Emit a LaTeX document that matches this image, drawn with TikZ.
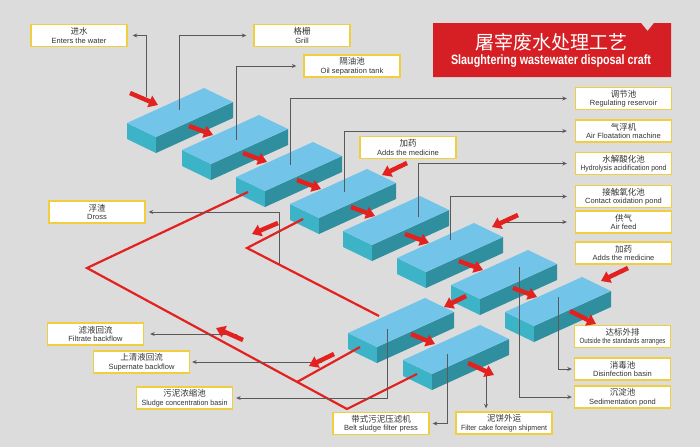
\documentclass[tikz,border=0pt]{standalone}
\usepackage{fontspec}
\setmainfont{Liberation Sans}
\newfontfamily\cjk{Noto Sans CJK SC}
\usetikzlibrary{arrows.meta,calc}
\definecolor{bgc}{HTML}{DCDCDC}
\definecolor{topc}{HTML}{72C5E9}
\definecolor{endc}{HTML}{3CB3C6}
\definecolor{sidec}{HTML}{2F8F9F}
\definecolor{redc}{HTML}{E3211F}
\definecolor{bannerc}{HTML}{D61F24}
\definecolor{leadc}{HTML}{595959}
\definecolor{goldc}{HTML}{EFCF3F}
\definecolor{txtc}{HTML}{333333}
\newsavebox\fitbox
\newcommand\fitx[2]{\sbox\fitbox{#2}\ifdim\wd\fitbox>#1\relax\resizebox{#1}{\height}{\usebox\fitbox}\else\usebox\fitbox\fi}
\newcommand\lab[2]{{\cjk\fontsize{8.5}{9}\selectfont #1}\\{\fontsize{7.5}{8.5}\selectfont\fitx{86pt}{#2}}}
\tikzset{
  slab/.pic={
    \fill[endc] (0,0) -- (29,14) -- (29,30) -- (0,16) -- cycle;
    \fill[sidec] (29,14) -- (106,-21) -- (106,-5) -- (29,30) -- cycle;
    \fill[topc] (0,0) -- (77,-35) -- (106,-21) -- (29,14) -- cycle;
  },
  redarr/.style={draw=redc, line width=4.5pt, -{Triangle[width=12pt,length=9pt]}},
  redln/.style={draw=redc, line width=2.2pt, line join=miter},
  lead/.style={draw=leadc, line width=0.8pt, -{Stealth[length=4.5pt,width=4pt]}},
  lbl/.style={draw=goldc, line width=1.4pt, fill=white, minimum width=96pt,
    minimum height=22pt, inner sep=0pt, align=center, text=txtc,
    font=\fontsize{7.5}{8.5}\selectfont}
}
\begin{document}
\begin{tikzpicture}[x=1pt,y=-1pt]
\useasboundingbox (0,0) rectangle (700,447);
\fill[bgc] (0,0) rectangle (700,447);

% block anchors
\coordinate (b1) at (127,123);
\coordinate (b2) at (182,150);
\coordinate (b3) at (236,177);
\coordinate (b4) at (290,204);
\coordinate (b5) at (343,231);
\coordinate (b6) at (397,258);
\coordinate (b7) at (451,285);
\coordinate (b8) at (505,312);
\coordinate (b9) at (348,333);
\coordinate (b10) at (403,360);
\foreach \b in {b1,b2,b3,b4,b5,b6,b7,b8,b9,b10} {\pic at (\b) {slab};}

% title banner
\fill[bannerc] (433,23) -- (641,23) -- (647.5,31) -- (654,23) -- (671,23) -- (671,77) -- (433,77) -- cycle;
\node[text=white, inner sep=0pt] (ttlcn) at (551,42) {\cjk\fontsize{19}{19}\selectfont 屠宰废水处理工艺};
\node[text=white, inner sep=0pt] (ttlen) at (551,61.5) {\fontsize{13.5}{14}\selectfont\bfseries\resizebox{200pt}{\height}{Slaughtering wastewater disposal craft}};

% labels
\node[lbl] (inwater) at (79,35.5) {\lab{进水}{Enters the water}};
\node[lbl] (grill) at (302,35.5) {\lab{格栅}{Grill}};
\node[lbl] (oil) at (352,66) {\lab{隔油池}{Oil separation tank}};
\node[lbl] (reg) at (623.5,98.5) {\lab{调节池}{Regulating reservoir}};
\node[lbl] (afl) at (623.5,131) {\lab{气浮机}{Air Floatation machine}};
\node[lbl] (medone) at (408,147.5) {\lab{加药}{Adds the medicine}};
\node[lbl] (hyd) at (623.5,163.5) {\lab{水解酸化池}{Hydrolysis acidification pond}};
\node[lbl] (con) at (623.5,196.5) {\lab{接触氧化池}{Contact oxidation pond}};
\node[lbl] (feed) at (623.5,222) {\lab{供气}{Air feed}};
\node[lbl] (medtwo) at (623.5,253) {\lab{加药}{Adds the medicine}};
\node[lbl] (dross) at (97,212) {\lab{浮渣}{Dross}};
\node[lbl] (filt) at (95.5,334) {\lab{滤液回流}{Filtrate backflow}};
\node[lbl] (sup) at (141.5,362) {\lab{上清液回流}{Supernate backflow}};
\node[lbl] (slc) at (184.5,398) {\lab{污泥浓缩池}{Sludge concentration basin}};
\node[lbl] (belt) at (381,423.5) {\lab{带式污泥压滤机}{Belt sludge filter press}};
\node[lbl] (cake) at (504,423) {\lab{泥饼外运}{Filter cake foreign shipment}};
\node[lbl] (outs) at (622.5,336.5) {\lab{达标外排}{Outside the standards arranges}};
\node[lbl] (dis) at (622.5,369) {\lab{消毒池}{Disinfection basin}};
\node[lbl] (sed) at (622.5,397) {\lab{沉淀池}{Sedimentation pond}};

% red sludge lines
\draw[redln] (417,374) -- (347,409) -- (87,268) -- (248,192);
\draw[redln] (360,347) -- (297,382);
\draw[redln] (303,219) -- (247,248) -- (379,316);

% grey leader lines
\coordinate (cakein) at (486,373);
\draw[lead, shorten >=5pt] (146,97) |- (inwater.east);
\draw[lead, shorten >=7pt] (179,110) |- (grill.west);
\draw[lead, shorten >=7pt] (236,140) |- (oil.west);
\draw[lead, shorten >=8pt] (290,165) |- (reg.west);
\draw[lead, shorten >=8pt] (344,192) |- (afl.west);
\draw[lead, shorten >=8pt] (418,217) |- (hyd.west);
\draw[lead, shorten >=8pt] (450,240) |- (con.west);
\draw[lead, shorten >=8pt] (503,222) -- (feed.west);
\draw[lead, shorten >=3pt] (279,264) |- (dross.east);
\draw[lead, shorten >=6pt] (237,334) -- (filt.east);
\draw[lead, shorten >=2pt] (322,362) -- (sup.east);
\draw[lead, shorten >=3pt] (387,329) |- (slc.east);
\draw[lead, shorten >=3pt] (447,354) |- (belt.east);
\draw[lead, shorten >=3pt] (cakein) -- (cakein |- cake.north);
\draw[lead, shorten >=2pt] (558,297) |- (dis.west);
\draw[lead, shorten >=2pt] (519,267) |- (sed.west);

% red flow arrows
\draw[redarr] (130,93) -- (158,105);
\foreach \k in {0,...,6} {\draw[redarr] ($(189,126)+\k*(54,27)$) -- ($(213,135)+\k*(54,27)$);}
\draw[redarr] (466,296) -- (444,307);
\draw[redarr] (411,334) -- (435,344);
\draw[redarr] (570,311) -- (596,324);
\draw[redarr] (468,363) -- (494,375);
\draw[redarr] (407,163) -- (382,175);
\draw[redarr] (518,215) -- (492,227);
\draw[redarr] (628,268) -- (601,281);
\draw[redarr] (243,340) -- (216,328);
\draw[redarr] (334,354) -- (309,366);
\draw[redarr] (278,223) -- (252,234);
\end{tikzpicture}
\end{document}
